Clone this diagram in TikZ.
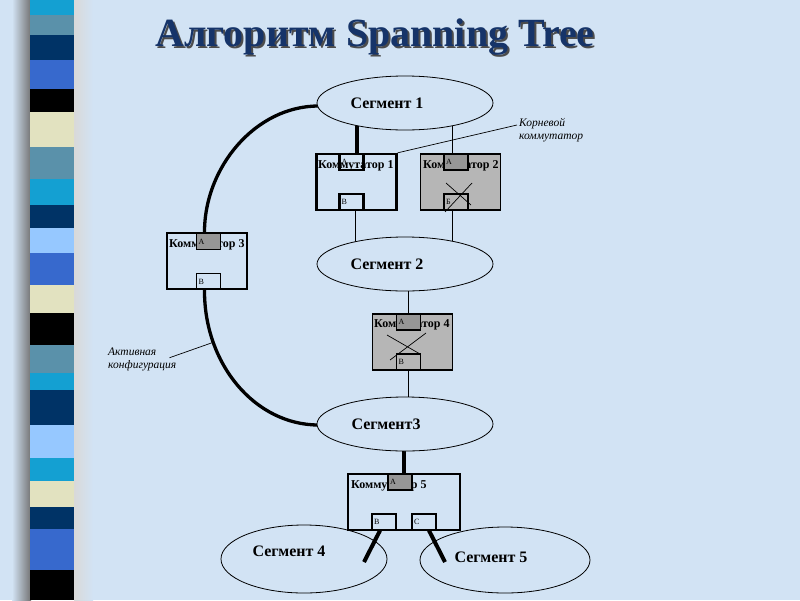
\documentclass[tikz,border=0pt]{standalone}
\usepackage{fontspec}
\setmainfont{Liberation Serif}
\usetikzlibrary{shapes.geometric}
\pgfdeclarelayer{back}
\pgfdeclarelayer{wires}
\pgfsetlayers{back,wires,main}
\definecolor{bgc}{RGB}{210,227,244}
\definecolor{cy}{RGB}{20,160,210}
\definecolor{st}{RGB}{90,145,170}
\definecolor{nv}{RGB}{0,51,102}
\definecolor{ry}{RGB}{55,105,205}
\definecolor{bk}{RGB}{0,0,0}
\definecolor{pl}{RGB}{226,226,192}
\definecolor{lb}{RGB}{150,200,255}
\definecolor{titlec}{RGB}{22,52,105}
\definecolor{swgray}{RGB}{182,182,182}
\definecolor{portgray}{RGB}{150,150,150}
\tikzset{
  seg/.style={ellipse, draw, line width=0.8pt, fill=bgc, inner sep=0pt,
    minimum width=176pt, minimum height=54pt},
  segtext/.style={font=\fontsize{16}{18}\selectfont\bfseries, inner sep=0pt},
  swbox/.style={rectangle, draw, line width=1.2pt, inner sep=0pt,
    minimum width=80pt, minimum height=56pt},
  swtext/.style={font=\fontsize{12}{14}\selectfont\bfseries, anchor=west, inner sep=0pt},
  port/.style={rectangle, draw, line width=1.1pt, inner sep=0pt,
    minimum width=24pt, minimum height=16pt, font=\fontsize{8}{9}\selectfont},
  note/.style={font=\fontsize{11.5}{13}\selectfont\itshape, align=left, inner sep=0pt},
  thickw/.style={line width=4pt},
  curvew/.style={line width=3.3pt},
  medw/.style={line width=1.6pt},
  thinw/.style={line width=0.9pt},
  leader/.style={line width=0.7pt},
  crossw/.style={line width=0.7pt}
}
\begin{document}
\begin{tikzpicture}[x=1pt,y=-1pt]
\useasboundingbox (0,0) rectangle (800,600);
\begin{pgfonlayer}{back}
\fill[bgc] (0,0) rectangle (800,600);
\shade[left color=bgc, right color=black!55] (12,0) rectangle (31,600);
\shade[left color=white!85!black, right color=bgc] (74,0) rectangle (93,600);
\foreach \a/\b/\c in {0/15/cy, 15/35/st, 35/60/nv, 60/89/ry, 89/112/bk,
  112/147/pl, 147/179/st, 179/205/cy, 205/228/nv, 228/253/lb, 253/285/ry,
  285/313/pl, 313/345/bk, 345/373/st, 373/390/cy, 390/425/nv, 425/458/lb,
  458/481/cy, 481/507/pl, 507/529/nv, 529/570/ry, 570/600/bk}
  \fill[\c] (30,\a) rectangle (74,\b);
\end{pgfonlayer}

% title
\node[text=black!70, font=\fontsize{40}{46}\selectfont\bfseries] (tsh) at (377,39) {Алгоритм Spanning Tree};
\node[text=titlec, font=\fontsize{40}{46}\selectfont\bfseries] (title) at (375,37) {Алгоритм Spanning Tree};

% segments
\node[seg] (s1) at (405,103) {};
\node[segtext] (t1) at (387,103) {Сегмент 1};
\node[seg] (s2) at (405,264) {};
\node[segtext] (t2) at (387,264) {Сегмент 2};
\node[seg] (s3) at (405,424) {};
\node[segtext] (t3) at (386,424) {Сегмент3};
\node[seg, minimum width=166pt, minimum height=68pt] (s4) at (304,559) {};
\node[segtext] (t4) at (289,551) {Сегмент 4};
\node[seg, minimum width=170pt, minimum height=66pt] (s5) at (505,560) {};
\node[segtext] (t5) at (491,557) {Сегмент 5};

% switch 1 (root)
\node[swbox, line width=2.4pt] (sw1) at (356.5,182) {};
\node[port, line width=2.2pt] (p1a) at (351.5,162) {\makebox[20pt][l]{A}};
\node[swtext] (w1) at (318,166) {Коммутатор 1};
\node[port, line width=2.2pt] (p1b) at (351.5,202) {\makebox[20pt][l]{B}};

% switch 2
\node[swbox, fill=swgray] (sw2) at (460.5,182) {};
\node[swtext] (w2) at (423,166) {Коммутатор 2};
\node[port, fill=portgray] (p2a) at (456,162) {\makebox[20pt][l]{A}};
\node[port] (p2b) at (456,202) {\makebox[20pt][l]{Б}};
\coordinate (x2a) at (446,183);
\coordinate (x2b) at (471,205);
\coordinate (x2c) at (472,183);
\coordinate (x2d) at (445,212);
\draw[crossw] (x2a) -- (x2b);
\draw[crossw] (x2c) -- (x2d);

% switch 3
\node[swbox] (sw3) at (207,261) {};
\node[swtext] (w3) at (169,245) {Коммутатор 3};
\node[port, fill=portgray] (p3a) at (208.5,241.5) {\makebox[20pt][l]{A}};
\node[port] (p3b) at (208.5,281.5) {\makebox[20pt][l]{B}};

% switch 4
\node[swbox, fill=swgray] (sw4) at (412.5,342) {};
\node[swtext] (w4) at (374,325) {Коммутатор 4};
\node[port, fill=portgray] (p4a) at (408.5,322) {\makebox[20pt][l]{A}};
\node[port] (p4b) at (408.5,362) {\makebox[20pt][l]{B}};
\coordinate (x4a) at (387,335);
\coordinate (x4b) at (420,354);
\coordinate (x4c) at (426,333);
\coordinate (x4d) at (390,360);
\draw[crossw] (x4a) -- (x4b);
\draw[crossw] (x4c) -- (x4d);

% switch 5
\node[swbox, minimum width=112pt] (sw5) at (404,502) {};
\node[swtext] (w5) at (351,486) {Коммутатор 5};
\node[port, fill=portgray] (p5a) at (400,482) {\makebox[20pt][l]{A}};
\node[port] (p5b) at (384,522) {\makebox[20pt][l]{B}};
\node[port] (p5c) at (424,522) {\makebox[20pt][l]{C}};

% wires
\begin{pgfonlayer}{wires}
\draw[thickw] ([xshift=5pt]p1a.north) -- ([xshift=5pt]p1a.north |- s1.center);
\draw[thinw] ([xshift=-4pt]p2a.north) -- ([xshift=-4pt]p2a.north |- s1.center);
\draw[medw] ([xshift=4pt]p1b.south) -- ([xshift=4pt]p1b.south |- s2.center);
\draw[thinw] ([xshift=-4pt]p2b.south) -- ([xshift=-4pt]p2b.south |- s2.center);
\draw[thinw] (p4a.north) -- (p4a.north |- s2.center);
\draw[thinw] (p4b.south) -- (p4b.south |- s3.center);
\draw[thickw] ([xshift=4pt]p5a.north) -- ([xshift=4pt]p5a.north |- s3.center);
\draw[curvew] ([xshift=2pt,yshift=-3pt]s1.west) .. controls (255,106) and (204,168) .. ([xshift=-4pt]p3a.north);
\draw[curvew] ([xshift=-4pt]p3b.south) .. controls (204,364) and (255,425) .. ([xshift=2pt,yshift=-1pt]s3.west)
  coordinate[pos=0.25] (ac);
\end{pgfonlayer}

\coordinate (e4) at (364,562);
\coordinate (e5) at (445,562);
\draw[thickw] ([xshift=-4pt]p5b.south) -- (e4);
\draw[thickw] ([xshift=5pt]p5c.south) -- (e5);

% notes
\node[note, anchor=north west] (root) at (519,118) {Корневой\\коммутатор};
\draw[leader] ([xshift=-2pt,yshift=-7pt]root.north west) -- (sw1.north east);
\node[note, anchor=north west] (act) at (108,348) {Активная\\конфигурация};
\draw[leader] ([xshift=-7pt,yshift=2pt]act.east) -- (ac);
\end{tikzpicture}
\end{document}
